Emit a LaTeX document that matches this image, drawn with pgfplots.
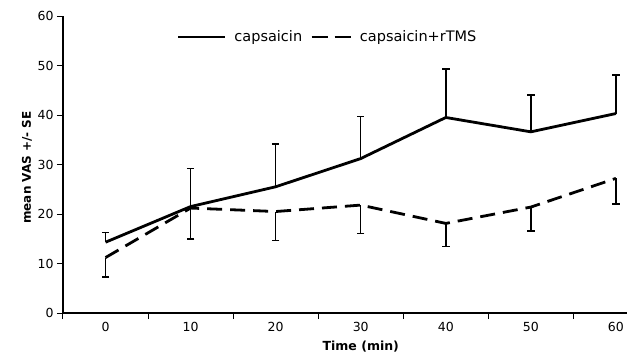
\documentclass[border=0pt]{standalone}
\usepackage{pgfplots}
\pgfplotsset{compat=1.18}
\usepackage{fontspec}
\setmainfont{DejaVu Sans}
\begin{document}
\begin{tikzpicture}
\begin{axis}[
  scale only axis,
  width=564pt, height=297pt,
  at={(0,0)}, anchor=south west,
  xmin=-5, xmax=61.3,
  ymin=0, ymax=60,
  axis lines=left,
  axis line style={-, line width=1.1pt},
  tick align=outside,
  major tick length=6pt,
  tick style={line width=1pt, black},
  ytick={0,10,...,60},
  xtick={-5,5,15,25,35,45,55},
  xticklabels={{},{},{},{},{},{},{}},
  extra x ticks={0,10,20,30,40,50,60},
  extra x tick labels={0,10,20,30,40,50,60},
  extra x tick style={tick style={draw=none}},
  tick label style={font=\fontsize{12.5}{14}\selectfont},
  /pgf/number format/assume math mode=true,
  xlabel={\bfseries Time (min)},
  ylabel={\bfseries mean VAS +/- SE},
  xlabel style={font=\fontsize{12.5}{14}\selectfont, at={(axis description cs:0.528,0)}, anchor=base, yshift=-37.7pt},
  ylabel style={font=\fontsize{12}{14}\selectfont, at={(axis description cs:-0.0638,0.49)}, anchor=center},
  legend columns=2,
  legend style={draw=none, fill=none, at={(axis description cs:0.469,0.929)}, anchor=center,
    font=\fontsize{14.5}{16}\selectfont, column sep=6pt},
  clip=false,
]
\addplot[black, line width=2.8pt, mark=none,
  legend image code/.code={\draw[black, line width=2.8pt] (0pt,0pt) -- (47pt,0pt);},
  error bars/.cd, y dir=plus, y explicit,
  error bar style={solid, line width=1.5pt},
  error mark options={solid, line width=1.5pt, mark size=3.7pt, rotate=90}]
coordinates {
(0,14.3) +- (0,2.0)
(10,21.5) +- (0,7.7)
(20,25.5) +- (0,8.6)
(30,31.2) +- (0,8.5)
(40,39.5) +- (0,9.8)
(50,36.6) +- (0,7.4)
(60,40.3) +- (0,7.8)
};
\addlegendentry{capsaicin}
\addplot[black, line width=2.8pt, mark=none, dash pattern=on 15pt off 8pt,
  legend image code/.code={\draw[black, line width=2.8pt, dash pattern=on 16pt off 7pt] (0pt,0pt) -- (39pt,0pt);},
  error bars/.cd, y dir=minus, y explicit,
  error bar style={solid, line width=1.5pt},
  error mark options={solid, line width=1.5pt, mark size=3.7pt, rotate=90}]
coordinates {
(0,11.2) +- (0,3.9)
(10,21.2) +- (0,6.2)
(20,20.5) +- (0,5.9)
(30,21.8) +- (0,5.7)
(40,18.1) +- (0,4.7)
(50,21.4) +- (0,4.8)
(60,27.2) +- (0,5.2)
};
\addlegendentry{capsaicin+rTMS}
\end{axis}
\pgfresetboundingbox
\path[use as bounding box] (-63pt,-47pt) rectangle (564pt,313pt);
\end{tikzpicture}
\end{document}
